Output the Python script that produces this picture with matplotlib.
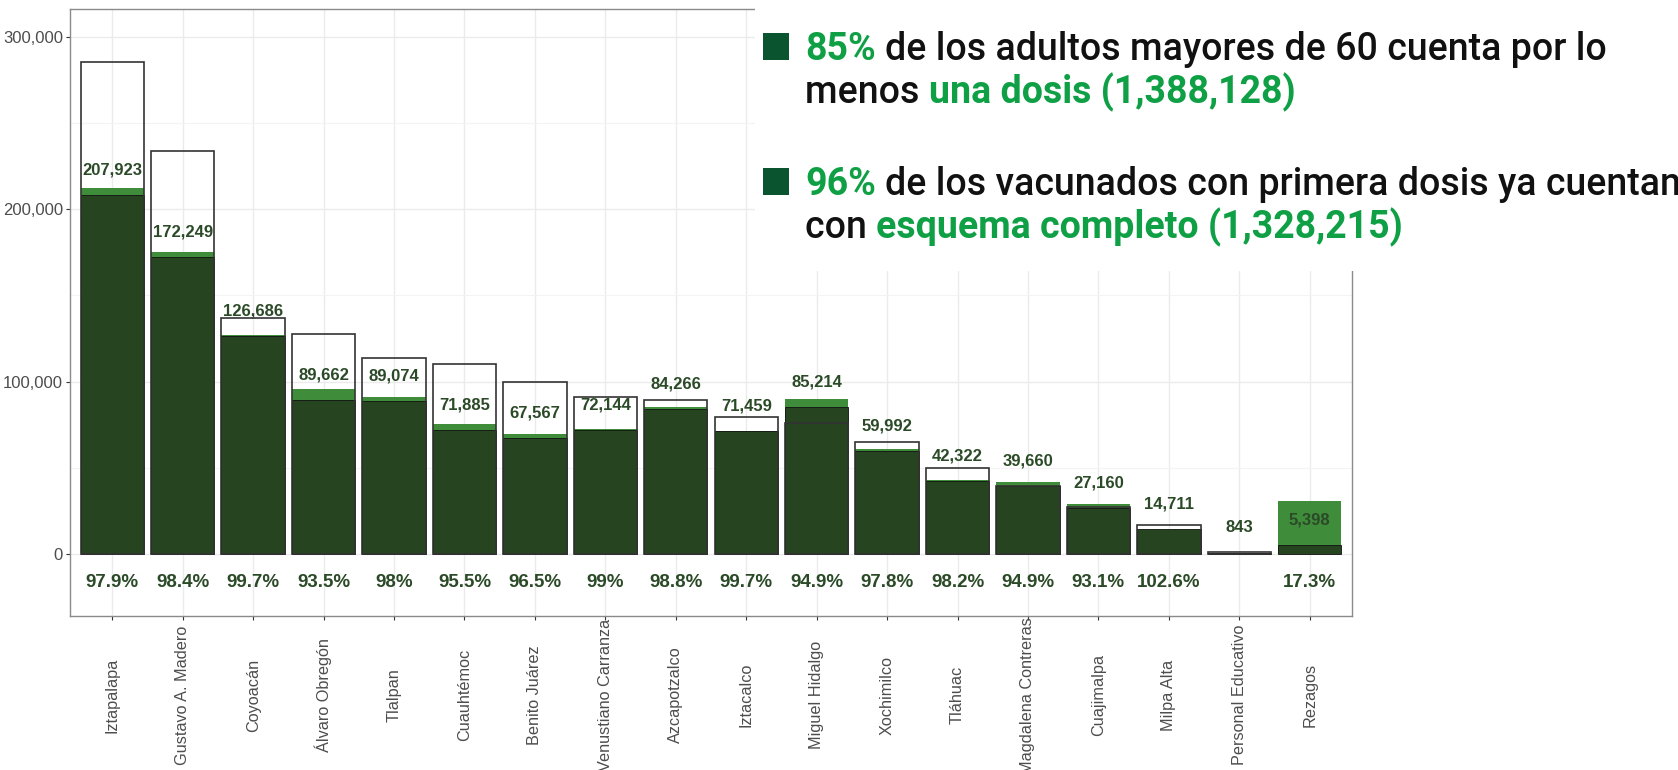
import numpy as np
import matplotlib
matplotlib.use("Agg")
import matplotlib.pyplot as plt
from matplotlib.patches import Rectangle
from matplotlib.ticker import FuncFormatter, MultipleLocator

alcaldias = ['Iztapalapa', 'Gustavo A. Madero', 'Coyoacán', 'Álvaro Obregón', 'Tlalpan',
             'Cuauhtémoc', 'Benito Juárez', 'Venustiano Carranza', 'Azcapotzalco', 'Iztacalco',
             'Miguel Hidalgo', 'Xochimilco', 'Tláhuac', 'Magdalena Contreras', 'Cuajimalpa',
             'Milpa Alta', 'Personal Educativo', 'Rezagos']
# poblacion objetivo (contorno), estimada del grafico
poblacion = [285300, 233700, 137100, 127900, 114000, 110100, 99900, 91200, 89500, 79400,
             76300, 64900, 49900, 39800, 27400, 16900, 1200, np.nan]
primera_dosis = [212383, 175050, 127067, 95895, 90892, 75272, 70018, 72873, 85290, 71674,
                 89793, 61342, 43098, 41791, 29173, 14338, 977, 31202]
esquema_completo = [207923, 172249, 126686, 89662, 89074, 71885, 67567, 72144, 84266, 71459,
                    85214, 59992, 42322, 39660, 27160, 14711, 843, 5398]
porcentaje = ['97.9%', '98.4%', '99.7%', '93.5%', '98%', '95.5%', '96.5%', '99%', '98.8%',
              '99.7%', '94.9%', '97.8%', '98.2%', '94.9%', '93.1%', '102.6%', '', '17.3%']

W, H = 1678, 770
OSCURO = '#25441f'
CLARO = '#3f8d3b'
ETIQ = '#2b4a27'
VERDE_TXT = '#0fa046'

fig = plt.figure(figsize=(W / 100, H / 100), dpi=100)
ax = fig.add_axes([70 / W, 1 - 616 / H, (1352 - 70) / W, (616 - 9.3) / H])

x = np.arange(len(alcaldias))
ax.bar(x, primera_dosis, width=0.9, color=CLARO, linewidth=0, zorder=2)
ax.bar(x, esquema_completo, width=0.9, color=OSCURO, edgecolor='#111111', linewidth=0.6, zorder=3)
ax.bar(x, poblacion, width=0.9, fill=False, edgecolor='#333333', linewidth=1.2, zorder=4)

for i, v in enumerate(esquema_completo):
    ax.annotate(f'{v:,}', (i, v), xytext=(0, 18), textcoords='offset points',
                ha='center', va='center', fontsize=12, fontweight='bold',
                color=ETIQ, family='Liberation Sans', zorder=5)
    ax.annotate(porcentaje[i], (i, 0), xytext=(0, -20.4), textcoords='offset points',
                ha='center', va='center', fontsize=13.5, fontweight='bold',
                color=ETIQ, family='Liberation Sans', zorder=5)

ax.set_xlim(-0.6, len(alcaldias) - 0.4)
ax.set_ylim(-35700, 315800)
ax.yaxis.set_major_locator(MultipleLocator(100000))
ax.yaxis.set_minor_locator(MultipleLocator(50000))
ax.yaxis.set_major_formatter(FuncFormatter(lambda v, p: f'{int(v):,}'))
ax.set_xticks(x)
ax.set_xticklabels(alcaldias, rotation=90, va='center', ha='center')
ax.grid(True, which='major', color='#ebebeb', linewidth=1.0, zorder=0)
ax.grid(True, which='minor', axis='y', color='#f3f3f3', linewidth=0.8, zorder=0)
ax.set_axisbelow(True)
ax.tick_params(axis='both', which='major', length=3, width=0.8, color='#333333',
               labelcolor='#4d4d4d')
ax.tick_params(axis='x', pad=54, labelsize=11.7)
ax.tick_params(axis='y', labelsize=12, pad=2)
ax.tick_params(axis='y', which='minor', length=0)
for lab in ax.get_xticklabels() + ax.get_yticklabels():
    lab.set_family('Liberation Sans')
for s in ax.spines.values():
    s.set_color('#8a8a8a')
    s.set_linewidth(1.0)

# recuadro de texto arriba a la derecha
fig.patches.append(Rectangle((755 / W, 1 - 271 / H), 1 - 755 / W, 271 / H,
                             transform=fig.transFigure, facecolor='white',
                             edgecolor='none', zorder=5))
renderer = fig.canvas.get_renderer()
FS = 27


def ancho(s, peso):
    t = fig.text(0, 0, s, fontsize=FS, family='Roboto', fontweight=peso)
    w = t.get_window_extent(renderer).width
    t.remove()
    return w


def renglon(px, base, partes):
    for texto, color, peso in partes:
        if texto.startswith(' '):
            px += ancho('a a', peso) - ancho('aa', peso)
            texto = texto[1:]
        t = fig.text(px / W, 1 - base / H, texto, color=color, fontsize=FS,
                     family='Roboto', fontweight=peso, va='baseline', zorder=6)
        px += t.get_window_extent(renderer).width


for top in (33.3, 168.3):
    fig.patches.append(Rectangle((762.7 / W, 1 - (top + 26.7) / H), 26.7 / W, 26.7 / H,
                                 transform=fig.transFigure, facecolor='#0a5530',
                                 edgecolor='none', zorder=6))

renglon(805, 60, [('85%', VERDE_TXT, 'bold'),
                  (' de los adultos mayores de 60 cuenta por lo', '#111111', 'medium')])
renglon(805, 103, [('menos ', '#111111', 'medium'),
                   ('una dosis (1,388,128)', VERDE_TXT, 'bold')])
renglon(805, 195, [('96%', VERDE_TXT, 'bold'),
                   (' de los vacunados con primera dosis ya cuentan', '#111111', 'medium')])
renglon(805, 238, [('con ', '#111111', 'medium'),
                   ('esquema completo (1,328,215)', VERDE_TXT, 'bold')])

fig.savefig('out.png', dpi=100)
